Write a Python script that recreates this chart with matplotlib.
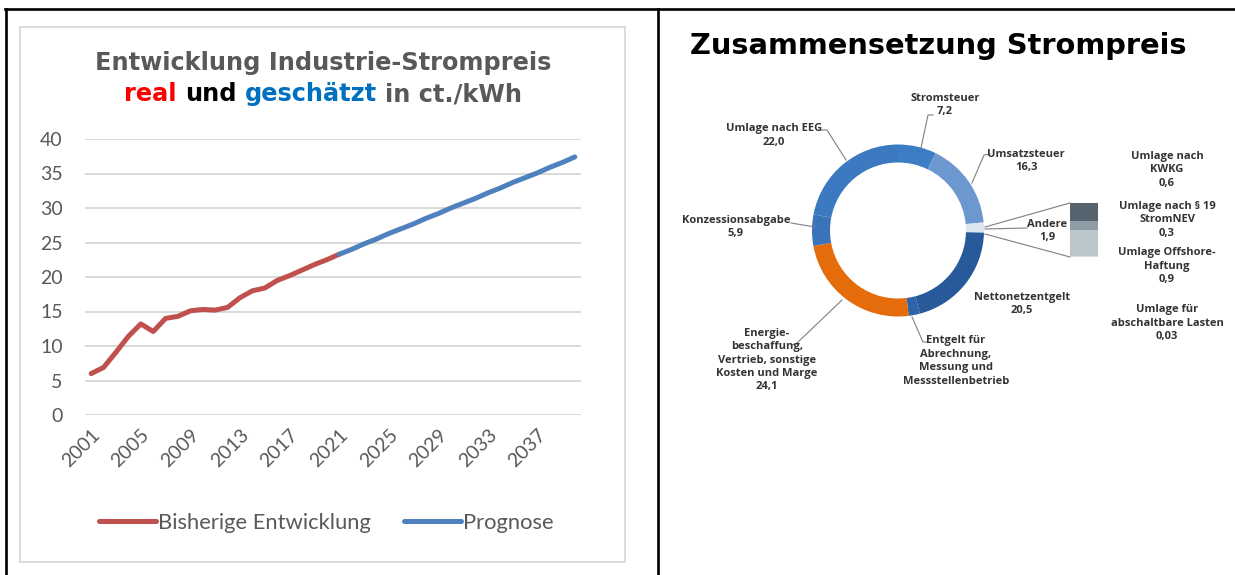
import matplotlib.pyplot as plt
from matplotlib.offsetbox import TextArea, HPacker, AnnotationBbox
from matplotlib.lines import Line2D
from matplotlib.patches import Rectangle

W, H = 1235, 575

# Industrie-Strompreis in ct./kWh
jahre_real = list(range(2001, 2022))
preis_real = [6.0, 6.9, 9.1, 11.4, 13.2, 12.1, 14.0, 14.3, 15.1, 15.3, 15.2,
              15.6, 17.0, 18.0, 18.4, 19.5, 20.2, 21.0, 21.8, 22.5, 23.3]
jahre_prognose = list(range(2021, 2041))
preis_prognose = [23.3, 24.0, 24.8, 25.5, 26.3, 27.0, 27.7, 28.5, 29.2, 30.0,
                  30.7, 31.4, 32.2, 32.9, 33.7, 34.4, 35.1, 35.9, 36.6, 37.4]
x_ticks = [2001, 2005, 2009, 2013, 2017, 2021, 2025, 2029, 2033, 2037]
y_ticks = [0, 5, 10, 15, 20, 25, 30, 35, 40]

# Zusammensetzung Strompreis (Anteile)
teile_namen = ["Stromsteuer", "Umsatzsteuer", "Andere", "Nettonetzentgelt",
               "Entgelt Messung", "Energiebeschaffung", "Konzessionsabgabe",
               "Umlage nach EEG"]
teile_werte = [7.2, 16.3, 1.9, 20.5, 2.1, 24.1, 5.9, 22.0]
teile_farben = ["#3d7dc6", "#6c97cf", "#dde5f1", "#28599a", "#2e64aa",
                "#e46c0a", "#3a73b9", "#3b79c1"]

andere_namen = ["KWKG", "StromNEV", "Offshore", "abschaltbar"]
andere_werte = [0.6, 0.3, 0.9, 0.03]
andere_farben = ["#55646e", "#8e9ca5", "#bcc6cd", "#d5dbe0"]

GRAU = "#595959"
LBL = "#333333"

fig = plt.figure(figsize=(W / 100, H / 100), dpi=100)


def rect(x0, y0, x1, y1):
    return [x0 / W, 1 - y1 / H, (x1 - x0) / W, (y1 - y0) / H]


# --- Liniendiagramm ---
ax = fig.add_axes(rect(85, 139, 581, 415))
ax.plot(jahre_real, preis_real, color="#c0504d", lw=3.6, solid_capstyle="round",
        solid_joinstyle="round", zorder=3)
ax.plot(jahre_prognose, preis_prognose, color="#4f81bd", lw=3.6,
        solid_capstyle="round", zorder=3)
ax.set_xlim(2000.5, 2040.5)
ax.set_ylim(0, 40)
ax.set_yticks(y_ticks)
ax.set_xticks(x_ticks)
ax.set_xticklabels([str(t) for t in x_ticks], rotation=45, ha="right",
                   rotation_mode="anchor")
ax.grid(axis="y", color="#d9d9d9", lw=1.4)
ax.set_axisbelow(True)
for s in ax.spines.values():
    s.set_visible(False)
ax.tick_params(length=0, colors=GRAU, labelsize=14)
ax.tick_params(axis="y", pad=16)
ax.tick_params(axis="x", pad=8)
for t in ax.get_xticklabels() + ax.get_yticklabels():
    t.set_fontfamily("Lato")

handles = [Line2D([], [], color="#c0504d", lw=3.6, solid_capstyle="round"),
           Line2D([], [], color="#4f81bd", lw=3.6, solid_capstyle="round")]
fig.legend(handles, ["Bisherige Entwicklung", "Prognose"], loc="center",
           bbox_to_anchor=(326 / W, 1 - 523 / H), ncol=2, frameon=False,
           handlelength=2.6, handletextpad=0.1, columnspacing=1.5,
           prop={"family": "Lato", "size": 15.8}, labelcolor=GRAU)

# --- Donut ---
cx, cy, R = 898, 230.5, 86
pax = fig.add_axes(rect(cx - R, cy - R, cx + R, cy + R))
pax.pie(teile_werte, colors=teile_farben, startangle=90, counterclock=False,
        radius=1, wedgeprops=dict(width=18 / R, edgecolor="none"))
pax.set_xlim(-1, 1)
pax.set_ylim(-1, 1)
pax.axis("off")

# Aufschluesselung "Andere"
bax = fig.add_axes(rect(1070, 203, 1098, 257))
unten = 0
for w, c in zip(andere_werte, andere_farben):
    bax.bar(0, w, bottom=unten, width=1, color=c)
    unten += w
bax.set_xlim(-0.5, 0.5)
bax.set_ylim(sum(andere_werte), 0)
bax.axis("off")

# --- Overlay in Pixelkoordinaten ---
ov = fig.add_axes([0, 0, 1, 1], zorder=5)
ov.set_xlim(0, W)
ov.set_ylim(H, 0)
ov.axis("off")
ov.patch.set_visible(False)

# Tabellenrahmen
ov.plot([5, W], [9, 9], color="black", lw=1.9)
ov.plot([6, 6], [9, H], color="black", lw=1.9)
ov.plot([657.5, 657.5], [9, H], color="black", lw=1.9)
ov.add_patch(Rectangle((20, 27), 605, 535, fill=False, ec="#d9d9d9", lw=1.3))

# Titel links
ov.text(323, 63, "Entwicklung Industrie-Strompreis", ha="center", va="center",
        fontsize=17.3, fontweight="bold", color=GRAU, family="DejaVu Sans")
teile = [("real", "#ff0000"), ("und", "black"), ("geschätzt", "#0070c0"),
         ("in ct./kWh", GRAU)]
boxes = [TextArea(t, textprops=dict(color=c, fontsize=17.3, fontweight="bold",
                                    family="DejaVu Sans")) for t, c in teile]
pack = HPacker(children=boxes, align="baseline", pad=0, sep=6)
ov.add_artist(AnnotationBbox(pack, (323, 94), xycoords="data", frameon=False,
                             box_alignment=(0.5, 0.5), pad=0))

# Titel rechts
ov.text(690, 46, "Zusammensetzung Strompreis", ha="left", va="center",
        fontsize=20.8, fontweight="bold", color="black", family="DejaVu Sans")

lbl = dict(ha="center", va="center", fontsize=8, fontweight="bold", color=LBL,
           family="Open Sans", linespacing=1.3)
ov.text(774, 135.5, "Umlage nach EEG\n22,0", **lbl)
ov.text(945, 105, "Stromsteuer\n7,2", **lbl)
ov.text(1026, 161, "Umsatzsteuer\n16,3", **lbl)
ov.text(1047, 231, "Andere\n1,9", **lbl)
ov.text(1022, 304, "Nettonetzentgelt\n20,5", **lbl)
ov.text(736, 227, "Konzessionsabgabe\n5,9", **lbl)
ov.text(767, 360, "Energie-\nbeschaffung,\nVertrieb, sonstige\nKosten und Marge\n24,1", **lbl)
ov.text(956, 361, "Entgelt für\nAbrechnung,\nMessung und\nMessstellenbetrieb", **lbl)
ov.text(1167, 170, "Umlage nach\nKWKG\n0,6", **lbl)
ov.text(1167, 220, "Umlage nach § 19\nStromNEV\n0,3", **lbl)
ov.text(1167, 266, "Umlage Offshore-\nHaftung\n0,9", **lbl)
ov.text(1167, 323, "Umlage für\nabschaltbare Lasten\n0,03", **lbl)

# Verbindungslinien
lk = dict(color="#7f7f7f", lw=0.8)
ov.plot([822, 827, 846], [130, 130, 160], **lk)
ov.plot([933, 928, 921], [115, 115, 148], **lk)
ov.plot([990, 984, 972], [154, 155, 183], **lk)
ov.plot([791, 815], [223, 227], **lk)
ov.plot([792, 797, 842], [345, 343, 300], **lk)
ov.plot([912, 923, 927], [317, 342, 342], **lk)
ov.plot([985, 1070], [227, 203], **lk)
ov.plot([985, 1070], [234, 257], **lk)
ov.plot([985, 1027], [229, 228], **lk)

fig.savefig("out.png", dpi=100)
